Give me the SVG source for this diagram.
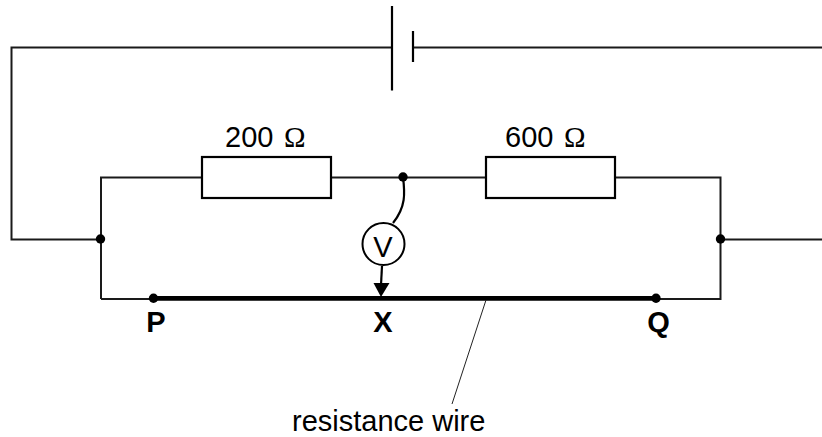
<svg xmlns="http://www.w3.org/2000/svg" width="822" height="437" viewBox="0 0 822 437">
<style>
.w{fill:none;stroke:#1a1a1a;stroke-width:2}
.b{fill:none;stroke:#000;stroke-width:2.200}
.d{fill:#000}
.t{font-family:"Liberation Sans",Arial,sans-serif;font-size:29px;fill:#000}
.l{font-weight:bold}
.o{font-family:"Liberation Serif","Times New Roman",serif}
</style>
<rect width="822" height="437" fill="#fff"/>
<g id="connectors">
<path class="w" d="M392 47.500H11.500V239.500H101"/>
<path class="w" d="M413 47.500H822"/>
<path class="w" d="M101 299V177.500H202"/>
<path class="w" d="M331 177.500H486"/>
<path class="w" d="M615 177.500H720.500V299H656"/>
<path class="w" d="M720.500 239.500H822"/>
<path class="w" d="M101 299H154"/>
<path d="M154 298.300H656" fill="none" stroke="#000" stroke-width="4.800"/>
<path class="b" d="M403 177C405 193 406 207 393 223"/>
<path class="b" d="M382 266L381 285"/>
<path d="M373.500 283H389.500L381 297Z" fill="#000"/>
<path d="M486 300L452 404" fill="none" stroke="#222" stroke-width="1"/>
</g>
<g id="battery"><path class="b" d="M392 6V90.500M413 31V62"/></g>
<g id="r200"><rect class="b" x="202" y="157" width="129" height="41" fill="#fff"/><text class="t" x="225" y="147">200 <tspan class="o" x="284">Ω</tspan></text></g>
<g id="r600"><rect class="b" x="486" y="157" width="129" height="41" fill="#fff"/><text class="t" x="505" y="147">600 <tspan class="o" x="564">Ω</tspan></text></g>
<g id="voltmeter"><circle cx="383.500" cy="244" r="21" fill="#fff" stroke="#000" stroke-width="2"/><text class="t" x="383" y="257" text-anchor="middle">V</text></g>
<g id="junctions">
<circle class="d" cx="100.500" cy="239" r="4.700"/>
<circle class="d" cx="720.500" cy="239" r="4.700"/>
<circle class="d" cx="403" cy="177" r="4.700"/>
</g>
<g id="P"><circle class="d" cx="153.500" cy="298.300" r="4.700"/><text class="t l" x="156" y="332" text-anchor="middle">P</text></g>
<g id="X"><text class="t l" x="383" y="332" text-anchor="middle">X</text></g>
<g id="Q"><circle class="d" cx="656" cy="298.300" r="4.700"/><text class="t l" x="658.500" y="332" text-anchor="middle">Q</text></g>
<g id="label"><text class="t" x="292" y="431">resistance wire</text></g>
</svg>
